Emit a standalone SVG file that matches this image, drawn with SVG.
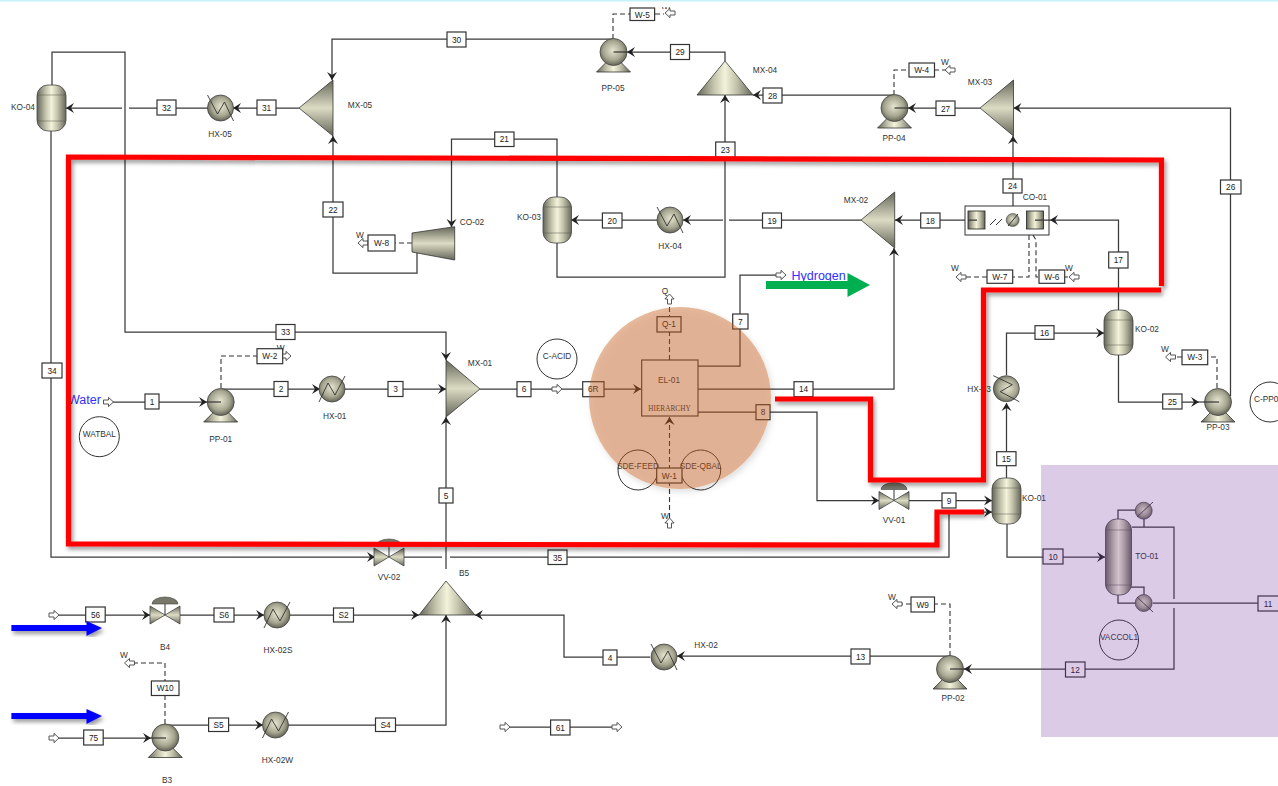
<svg xmlns="http://www.w3.org/2000/svg" xmlns:xlink="http://www.w3.org/1999/xlink" width="1278" height="786" viewBox="0 0 1278 786">
<style>
text{font-family:"Liberation Sans",Arial,sans-serif;font-size:8.3px;fill:#333;text-anchor:middle}
.c{fill:none;stroke:#3a3a3a;stroke-width:1.25}
.a{marker-end:url(#ah)}
.d{fill:none;stroke:#333;stroke-width:1.1;stroke-dasharray:5 3}
.b rect{fill:#fff;stroke:#333;stroke-width:1.2}
.b text{font-size:8.3px;fill:#222}
.v{fill:url(#gH);stroke:#444;stroke-width:.8}
.seam{fill:none;stroke:#55554a;stroke-width:.5}
.tv{fill:url(#gV);stroke:#333;stroke-width:.8}
.th{fill:url(#gH);stroke:#333;stroke-width:.8}
.cal{fill:none;stroke:#333;stroke-width:1}
.blue{font-size:12.5px;fill:#3030ff;text-anchor:start}
.red{fill:none;stroke:#f00;stroke-width:5.2;stroke-linejoin:miter;filter:url(#sh)}
</style>
<defs>
<linearGradient id="gH" x1="0" x2="1" y1="0" y2="0"><stop offset="0" stop-color="#66665a"/><stop offset=".3" stop-color="#c4c4ac"/><stop offset=".5" stop-color="#f3f3dc"/><stop offset=".7" stop-color="#c4c4ac"/><stop offset="1" stop-color="#66665a"/></linearGradient>
<linearGradient id="gV" x1="0" x2="0" y1="0" y2="1"><stop offset="0" stop-color="#66665a"/><stop offset=".5" stop-color="#dcdcc4"/><stop offset="1" stop-color="#66665a"/></linearGradient>
<radialGradient id="gR" cx=".48" cy=".45" r=".58"><stop offset="0" stop-color="#e6e6d0"/><stop offset=".6" stop-color="#a8a892"/><stop offset="1" stop-color="#5a5a4e"/></radialGradient>
<marker id="ah" markerUnits="userSpaceOnUse" markerWidth="12" markerHeight="12" refX="9" refY="6" orient="auto"><path d="M1,1 L9,6 L1,11 L4,6 Z" fill="#222"/></marker>
<filter id="sh" x="-5%" y="-5%" width="110%" height="110%"><feDropShadow dx="2" dy="3" stdDeviation="2" flood-color="#000" flood-opacity=".4"/></filter>
<filter id="shk" x="-10%" y="-10%" width="120%" height="120%"><feGaussianBlur in="SourceAlpha" stdDeviation="3"/><feOffset dx="2" dy="3" result="o"/><feFlood flood-color="#000" flood-opacity=".3"/><feComposite in2="o" operator="in"/><feComposite in2="SourceAlpha" operator="out" result="s"/><feMerge><feMergeNode in="s"/><feMergeNode in="SourceGraphic"/></feMerge></filter>
<clipPath id="cw"><rect x="660" y="6.5" width="14" height="2.5"/></clipPath>
<path id="ba" d="M0,-2 H5 V-4.6 L10,0 L5,4.6 V2 H0 Z" fill="#fff" stroke="#555" stroke-width="1"/>
<g id="pump"><polygon points="-6,9 6,9 17,20 -17,20" fill="url(#gH)" stroke="#333" stroke-width=".8"/><circle r="13.5" fill="url(#gR)" stroke="#444" stroke-width=".8"/></g>
<g id="hx"><circle r="13" fill="url(#gR)" stroke="#444" stroke-width=".8"/><path d="M-13,13 L-4,-6 L3,6 L13,-13" fill="none" stroke="#333" stroke-width=".9"/></g>
<g id="valve"><polygon points="-15,-9 15,9 15,-9 -15,9" fill="url(#gV)" stroke="#444" stroke-width=".8"/><path d="M0,-11 V0" stroke="#333" stroke-width="1"/><path d="M-13,-11 A13,7 0 0 1 13,-11 Z" fill="#77776a" stroke="#444" stroke-width=".6"/></g>
</defs>
<rect width="1278" height="786" fill="#fff"/>
<rect width="1278" height="1.5" fill="#c5f1fb"/>

<g id="connectors">
<path class="c a" d="M613,39 H332 V80"/>
<path class="c a" d="M299,108 H233"/>
<path class="c a" d="M208,108 H129 M122,108 H66"/>
<path class="c a" d="M52,85 V52 H125 V332 H446 V360"/>
<path class="c a" d="M51,131 V557 H375"/>
<path class="c a" d="M403,557 H442 M450,557 H949 V512 H992"/>
<path class="c a" d="M446,569 V417"/>
<path class="c a" d="M58,615 H150"/>
<path class="c a" d="M180,615 H264"/>
<path class="c a" d="M290,615 H419"/>
<path class="c a" d="M650,657 H564 V615 H475"/>
<path class="c a" d="M950,656 H677"/>
<path class="c a" d="M1132,527 H1174 V599 M1174,608 V669 H964"/>
<path class="c" d="M1153,603 H1258"/>
<path class="c a" d="M1007,524 V557 H1105"/>
<path class="c" d="M1118,519 V510 H1136 M1144,519 V527 M1131,587 H1144 V595 M1118,595 V603 H1136"/>
<path class="c a" d="M58,738 H151"/>
<path class="c a" d="M165,725 H263"/>
<path class="c a" d="M288,725 H446 V615"/>
<path class="c" d="M509,727 H612"/>
<path class="c a" d="M112,402 H207"/>
<path class="c a" d="M221,389 H320"/>
<path class="c a" d="M345,389 H446"/>
<path class="c a" d="M480,389 H641"/>
<path class="c" d="M698,366 H740 V275 H776"/>
<path class="c a" d="M698,389 H894 V248"/>
<path class="c a" d="M698,412 H817 V500.5 H879"/>
<path class="c a" d="M909,500.5 H992"/>
<path class="c a" d="M1006.5,478 V403"/>
<path class="c a" d="M1006.5,375 V333 H1104"/>
<path class="c a" d="M1118.5,355 V402 H1199"/>
<path class="c a" d="M1230.5,396 V108 H1013.5"/>
<path class="c a" d="M1013,207 V136"/>
<path class="c a" d="M1118.5,310 V220 H1050"/>
<path class="c a" d="M976,220 H895"/>
<path class="c a" d="M861,220 H729 M723,220 H683"/>
<path class="c a" d="M657,220 H571"/>
<path class="c a" d="M557,197 V139 H451.5 V227"/>
<path class="c a" d="M417,253 V273 H333 V136"/>
<path class="c a" d="M557,243 V277 H725 V95"/>
<path class="c a" d="M725,61 V52 H627"/>
<path class="c a" d="M894,95 H753"/>
<path class="c a" d="M980,108 H908"/>
<path class="d" d="M613,39 V14 H630 M655,14 H664"/>
<path class="d" d="M894,95 V70 H909 M934,70 H945"/>
<path class="d" d="M221,388 V356 H257"/>
<path class="d" d="M1217,388 V357 H1208 M1182,357 H1175"/>
<path class="d" d="M1029,235 V277 H1013 M987,277 H966"/>
<path class="d" d="M1033,235 L1036,240 V277 H1039 M1065,277 H1068"/>
<path class="d" d="M412,243 H395 M368,243 H364"/>
<path class="d" d="M950,656 V604 H934 M911,604 H902"/>
<path class="d" d="M165,724 V663 H134"/>
<path class="d" d="M669.5,360 V304"/>
<path class="d a" d="M669.5,518 V417"/>
</g>

<g id="KO-04"><rect class="v" x="37" y="85" width="29" height="46" rx="11"/><path class="seam" d="M37,95 H66 M37,121 H66"/><text x="23" y="110">KO-04</text></g>
<g id="HX-05"><use href="#hx" transform="translate(220.5,108) scale(-1,1)"/><text x="220" y="137">HX-05</text></g>
<g id="MX-05"><polygon class="tv" points="299,108 333,80 333,136"/><text x="360" y="108">MX-05</text></g>
<g id="PP-05"><use href="#pump" x="613.5" y="52"/><path class="c" d="M613.5,52 H627"/><text x="613" y="91">PP-05</text></g>
<g id="MX-04"><polygon class="th" points="725,61 697,95 753,95"/><text x="765" y="73">MX-04</text></g>
<g id="PP-04"><use href="#pump" x="894.5" y="108"/><path class="c" d="M894.5,108 H908"/><text x="894" y="141">PP-04</text></g>
<g id="MX-03"><polygon class="tv" points="980,108 1013.5,80 1013.5,136"/><text x="980" y="85">MX-03</text></g>
<g id="CO-01"><rect x="965" y="206" width="84" height="29" fill="#fff" stroke="#333" stroke-width="1"/><rect class="v" x="968" y="211" width="17" height="18" style="stroke:#222"/><rect class="v" x="1026.5" y="211" width="17" height="18" style="stroke:#222"/><circle cx="1012.7" cy="220" r="6.5" fill="url(#gR)" stroke="#444" stroke-width=".6"/><path d="M1008,226 L1018,214 M990,225 L996,219 M996,225 L1002,219" stroke="#333" stroke-width="1" fill="none"/><path class="c" d="M968,220 H977 M1035,220 H1050"/><text x="1035" y="200">CO-01</text></g>
<g id="MX-02"><polygon class="tv" points="861,220 894.7,192 894.7,248"/><text x="856" y="203">MX-02</text></g>
<g id="HX-04"><use href="#hx" transform="translate(670,220) scale(-1,1)"/><text x="670" y="249">HX-04</text></g>
<g id="KO-03"><rect class="v" x="543" y="197" width="28.5" height="46" rx="11"/><path class="seam" d="M543,207 H571.5 M543,233 H571.5"/><text x="529" y="220">KO-03</text></g>
<g id="CO-02"><polygon class="tv" points="412,233 454.7,226.7 454.7,260 412,252"/><text x="472" y="225">CO-02</text></g>
<g id="PP-01"><use href="#pump" x="220.7" y="402"/><path class="c" d="M207,402 H221"/><text x="220.7" y="442">PP-01</text></g>
<g id="HX-01"><use href="#hx" x="332" y="389"/><text x="334.7" y="419">HX-01</text></g>
<g id="MX-01"><polygon class="tv" points="446,360 446,417 480,389"/><text x="480" y="366">MX-01</text></g>
<g id="WATBAL"><circle class="cal" cx="99.3" cy="436.7" r="20"/><text x="99.3" y="437">WATBAL</text></g>
<g id="C-ACID"><circle class="cal" cx="557" cy="359" r="20"/><text x="557" y="358.5">C-ACID</text></g>
<g id="EL-01"><rect x="641.7" y="360" width="56.3" height="56" fill="#fff" stroke="#333" stroke-width="1.1"/><text x="669" y="383">EL-01</text><text x="669.5" y="411" style="font-family:'Liberation Serif',serif;font-size:7.3px">HIERARCHY</text></g>
<g id="SDE-FEED"><circle class="cal" cx="638" cy="470" r="20"/><text x="638" y="469">SDE-FEED</text></g>
<g id="SDE-QBAL"><circle class="cal" cx="700.7" cy="470" r="20"/><text x="700.7" y="469">SDE-QBAL</text></g>
<g id="VV-01"><use href="#valve" x="894" y="500.5"/><text x="894" y="523">VV-01</text></g>
<g id="VV-02"><use href="#valve" x="389" y="557"/><text x="389" y="580">VV-02</text></g>
<g id="KO-01"><rect class="v" x="992" y="478" width="29" height="46" rx="11"/><path class="seam" d="M992,488 H1021 M992,514 H1021"/><text x="1034" y="501">KO-01</text></g>
<g id="HX-03"><use href="#hx" transform="translate(1006.3,388.7) rotate(90)"/><text x="979" y="392">HX-03</text></g>
<g id="KO-02"><rect class="v" x="1104" y="310" width="29" height="45" rx="11"/><path class="seam" d="M1104,320 H1133 M1104,345 H1133"/><text x="1147" y="332">KO-02</text></g>
<g id="PP-03"><use href="#pump" x="1218" y="402"/><path class="c" d="M1199,402 H1219"/><text x="1218" y="430">PP-03</text></g>
<g id="C-PP03"><circle class="cal" cx="1270" cy="402" r="20"/><text x="1254" y="402" style="text-anchor:start">C-PP0</text></g>
<g id="TO-01"><rect class="v" x="1105.5" y="519" width="26" height="76" rx="11"/><path class="seam" d="M1105.5,530 H1131.5 M1105.5,585 H1131.5"/><circle cx="1143.7" cy="510.7" r="8.5" fill="url(#gR)" stroke="#444" stroke-width=".7"/><circle cx="1143.7" cy="603" r="8.5" fill="url(#gR)" stroke="#444" stroke-width=".7"/><path d="M1137,517 L1153,502 M1137,597 L1153,612" stroke="#333" stroke-width=".9" fill="none"/><text x="1147" y="559">TO-01</text></g>
<g id="VACCOL1"><ellipse class="cal" cx="1119" cy="640" rx="19.5" ry="20"/><text x="1119" y="640">VACCOL1</text></g>
<g id="PP-02"><use href="#pump" x="950" y="669"/><path class="c" d="M950,669 H965"/><text x="953" y="701">PP-02</text></g>
<g id="HX-02"><use href="#hx" transform="translate(664,657) scale(-1,1)"/><text x="706" y="648">HX-02</text></g>
<g id="B5"><polygon class="th" points="446,581 419,615 475,615"/><text x="464" y="576">B5</text></g>
<g id="B4"><use href="#valve" x="165" y="615"/><text x="165" y="650">B4</text></g>
<g id="HX-02S"><use href="#hx" x="277" y="615"/><text x="278" y="653">HX-02S</text></g>
<g id="B3"><use href="#pump" x="165.3" y="737.5"/><path class="c" d="M151,738 H166"/><text x="167" y="783">B3</text></g>
<g id="HX-02W"><use href="#hx" x="275.5" y="725"/><text x="277.5" y="763">HX-02W</text></g>

<g id="ports">
<use href="#ba" x="103.5" y="402"/><use href="#ba" x="49" y="615"/><use href="#ba" x="49" y="738"/><use href="#ba" x="500" y="727"/><use href="#ba" x="612" y="727"/>
<use href="#ba" x="552" y="389"/><use href="#ba" x="776" y="275"/><use href="#ba" x="281" y="356"/>
<use href="#ba" transform="translate(675,13) rotate(180)"/><use href="#ba" transform="translate(955,70) rotate(180)"/><use href="#ba" transform="translate(1175.5,357) rotate(180)"/><use href="#ba" transform="translate(966,277) rotate(180)"/><use href="#ba" transform="translate(1079,277) rotate(180)"/><use href="#ba" transform="translate(368,243) rotate(180)"/><use href="#ba" transform="translate(902,604) rotate(180)"/><use href="#ba" transform="translate(134.5,663) rotate(180)"/>
<use href="#ba" transform="translate(669.5,304) rotate(-90)"/><use href="#ba" transform="translate(669.5,528) rotate(-90)"/>
<text x="666" y="13" clip-path="url(#cw)">W</text><text x="945" y="65">W</text><text x="280.7" y="351">W</text><text x="1165" y="352">W</text><text x="955" y="271">W</text><text x="1069" y="271">W</text><text x="360" y="238">W</text><text x="892" y="600">W</text><text x="124" y="658">W</text><text x="665" y="294">Q</text><text x="665" y="519">W</text>
</g>

<g id="labels" class="b">
<g><rect x="447" y="32" width="19" height="15"/><text x="456.5" y="42.5">30</text></g>
<g><rect x="257" y="100" width="19" height="15"/><text x="266.5" y="110.5">31</text></g>
<g><rect x="157" y="100" width="19" height="15"/><text x="166.5" y="110.5">32</text></g>
<g><rect x="276" y="324.5" width="19" height="15"/><text x="285.5" y="335">33</text></g>
<g><rect x="42" y="363" width="20" height="15"/><text x="52" y="373.5">34</text></g>
<g><rect x="548" y="550" width="19" height="14.5"/><text x="557.5" y="560.5">35</text></g>
<g><rect x="439" y="488" width="14" height="15"/><text x="446" y="498.5">5</text></g>
<g><rect x="85.7" y="607" width="19.5" height="15"/><text x="95.5" y="617.5">56</text></g>
<g><rect x="214" y="608" width="20" height="14"/><text x="224" y="618">S6</text></g>
<g><rect x="333.5" y="608" width="20" height="14"/><text x="343.5" y="618">S2</text></g>
<g><rect x="83.7" y="730" width="19.5" height="15"/><text x="93.5" y="740.5">75</text></g>
<g><rect x="208.6" y="718" width="20" height="13.5"/><text x="218.6" y="728">S5</text></g>
<g><rect x="375.5" y="718" width="20" height="13.5"/><text x="385.5" y="728">S4</text></g>
<g><rect x="151.4" y="681" width="27.6" height="14.5"/><text x="165.2" y="691">W10</text></g>
<g><rect x="550.6" y="720" width="19.4" height="15"/><text x="560.3" y="730.5">61</text></g>
<g><rect x="603" y="650" width="14" height="15"/><text x="610" y="660.5">4</text></g>
<g><rect x="851" y="649" width="19" height="15"/><text x="860.5" y="659.5">13</text></g>
<g><rect x="911" y="597" width="23.5" height="15"/><text x="922.7" y="607.5">W9</text></g>
<g><rect x="1065.5" y="662" width="19.5" height="15"/><text x="1075.2" y="672.5">12</text></g>
<g><rect x="1258" y="596" width="22" height="15"/><text x="1268" y="606.5">11</text></g>
<g><rect x="1043" y="549" width="20" height="15"/><text x="1053" y="559.5">10</text></g>
<g><rect x="145" y="394" width="14" height="15"/><text x="152" y="404.5">1</text></g>
<g><rect x="274" y="381.5" width="14" height="15"/><text x="281" y="392">2</text></g>
<g><rect x="388" y="381.5" width="15" height="15"/><text x="395.5" y="392">3</text></g>
<g><rect x="257" y="348.7" width="25.7" height="15"/><text x="269.8" y="359.2">W-2</text></g>
<g><rect x="517" y="381.7" width="14" height="15"/><text x="524" y="392.2">6</text></g>
<g><rect x="582.7" y="381.7" width="21.3" height="15"/><text x="593.3" y="392.2">6R</text></g>
<g><rect x="732.7" y="314" width="15.3" height="15"/><text x="740.3" y="324.5">7</text></g>
<g><rect x="657" y="316.7" width="24" height="15.3"/><text x="669" y="327.3">Q-1</text></g>
<g><rect x="656.7" y="468" width="25.3" height="15"/><text x="669.3" y="478.5">W-1</text></g>
<g><rect x="794" y="381.7" width="19" height="15"/><text x="803.5" y="392.2">14</text></g>
<g><rect x="756" y="404.7" width="14" height="15"/><text x="763" y="415.2">8</text></g>
<g><rect x="942" y="493" width="14" height="15"/><text x="949" y="503.5">9</text></g>
<g><rect x="996.7" y="451.7" width="19.3" height="14"/><text x="1006.3" y="461.7">15</text></g>
<g><rect x="1035" y="325.7" width="19" height="13.6"/><text x="1044.5" y="335.5">16</text></g>
<g><rect x="1162.7" y="394" width="19.3" height="15"/><text x="1172.3" y="404.5">25</text></g>
<g><rect x="1182" y="350" width="25.7" height="14.7"/><text x="1194.8" y="360.3">W-3</text></g>
<g><rect x="1220.5" y="180" width="20.5" height="14"/><text x="1230.7" y="190">26</text></g>
<g><rect x="1003" y="179" width="19" height="14"/><text x="1012.5" y="189">24</text></g>
<g><rect x="1108.7" y="252" width="19.3" height="16"/><text x="1118.3" y="263">17</text></g>
<g><rect x="920.7" y="213" width="19.3" height="15"/><text x="930.3" y="223.5">18</text></g>
<g><rect x="762.5" y="213" width="19" height="15"/><text x="772" y="223.5">19</text></g>
<g><rect x="602.4" y="213" width="19.6" height="15"/><text x="612.2" y="223.5">20</text></g>
<g><rect x="494.7" y="132" width="19.3" height="14.5"/><text x="504.3" y="142">21</text></g>
<g><rect x="323" y="202" width="20" height="15"/><text x="333" y="212.5">22</text></g>
<g><rect x="715.7" y="142" width="19.3" height="15.5"/><text x="725.3" y="153">23</text></g>
<g><rect x="763" y="88" width="19" height="15"/><text x="772.5" y="98.5">28</text></g>
<g><rect x="936" y="101" width="19" height="14.5"/><text x="945.5" y="111.5">27</text></g>
<g><rect x="670.5" y="44.5" width="19" height="15"/><text x="680" y="55">29</text></g>
<g><rect x="630" y="8" width="24.6" height="12.5"/><text x="642.3" y="17.5">W-5</text></g>
<g><rect x="909" y="63" width="25.5" height="14"/><text x="921.7" y="73">W-4</text></g>
<g><rect x="368" y="235" width="27" height="16"/><text x="381.5" y="246">W-8</text></g>
<g><rect x="987" y="270" width="25.7" height="13.3"/><text x="999.8" y="279.8">W-7</text></g>
<g><rect x="1039" y="270" width="25.7" height="13.3"/><text x="1051.8" y="279.8">W-6</text></g>
</g>

<text class="blue" x="68" y="404">Water</text>
<text class="blue" x="791.5" y="280">Hydrogen</text>

<circle id="highlight-orange" cx="680" cy="398" r="91" fill="#c55a11" fill-opacity=".42" filter="url(#shk)"/>
<rect id="highlight-purple" x="1041" y="465" width="237" height="272" fill="#7030a0" fill-opacity=".25"/>

<polygon id="arrow-green" points="766,281 847.5,281 847.5,273 870,285 847.5,297 847.5,289 766,289" fill="#00b050"/>
<polygon id="arrow-blue-1" points="11.4,625 86.5,625 86.5,621 102,628 86.5,636 86.5,631 11.4,631" fill="#0000ff" filter="url(#sh)"/>
<polygon id="arrow-blue-2" points="11.4,713 86.5,713 86.5,709 102,716 86.5,724 86.5,719 11.4,719" fill="#0000ff" filter="url(#sh)"/>
<polyline id="red-1" class="red" points="1161.5,286 1161.5,160 68.5,157 68.5,544 937,545 937,512 984,512"/>
<polyline id="red-2" class="red" points="1161,290 983.5,290 983.5,480 870.5,480 870.5,399 775,399"/>
</svg>
